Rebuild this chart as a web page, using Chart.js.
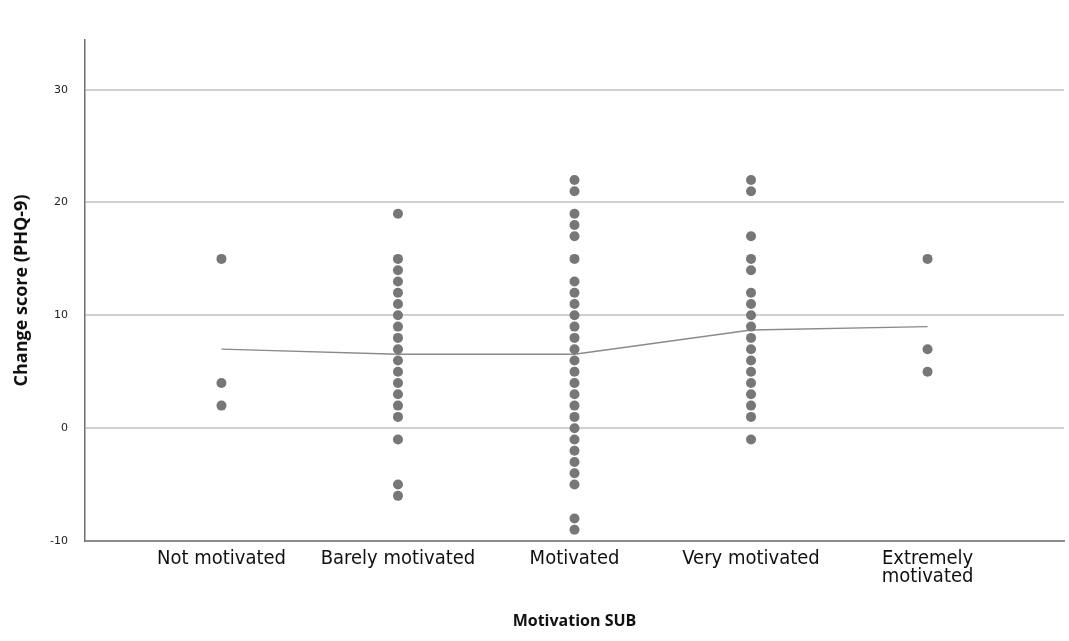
<!DOCTYPE html>
<html>
<head>
<meta charset="utf-8">
<script src="https://cdn.jsdelivr.net/npm/chart.js@4"></script>
<style>
	html, body { margin: 0; padding: 0; background: #fff; }
	#wrap { width: 1069px; height: 641px; }
</style>
</head>
<body>
<div id="wrap"><canvas id="scoreChart"></canvas></div>
<script>
// categories on the x axis
const categories = ['Not motivated', 'Barely motivated', 'Motivated', 'Very motivated', ['Extremely', 'motivated']];

// change scores per group (distinct values seen in the plot)
const notMotivated = [15, 4, 2];
const barelyMotivated = [19, 15, 14, 13, 12, 11, 10, 9, 8, 7, 6, 5, 4, 3, 2, 1, -1, -5, -6];
const motivated = [22, 21, 19, 18, 17, 15, 13, 12, 11, 10, 9, 8, 7, 6, 5, 4, 3, 2, 1, 0, -1, -2, -3, -4, -5, -8, -9];
const veryMotivated = [22, 21, 17, 15, 14, 12, 11, 10, 9, 8, 7, 6, 5, 4, 3, 2, 1, -1];
const extremelyMotivated = [15, 7, 5];

// group means (the connecting line)
const groupMeans = [7, 6.55, 6.55, 8.7, 9];

const yTicks = [-10, 0, 10, 20, 30];

const groups = [notMotivated, barelyMotivated, motivated, veryMotivated, extremelyMotivated];
const points = [];
groups.forEach((g, i) => g.forEach(v => points.push({ x: i + 1, y: v })));

new Chart(document.getElementById('scoreChart'), {
	type: 'scatter',
	data: {
		datasets: [{
			type: 'line',
			label: 'Mean',
			data: groupMeans.map((m, i) => ({ x: i + 1, y: m })),
			borderColor: '#8a8a8a',
			borderWidth: 1.3,
			pointRadius: 0,
			fill: false,
			order: 2
		}, {
			label: 'Change score',
			data: points,
			backgroundColor: '#777777',
			borderWidth: 0,
			pointRadius: 5,
			order: 1
		}]
	},
	options: {
		responsive: true,
		maintainAspectRatio: false,
		animation: false,
		layout: { padding: { left: 0, right: 1, top: 40, bottom: 0 } },
		plugins: {
			legend: { display: false },
			tooltip: { enabled: false }
		},
		scales: {
			x: {
				type: 'linear',
				min: 0.227,
				max: 5.773,
				afterBuildTicks: s => { s.ticks = [1, 2, 3, 4, 5].map(v => ({ value: v })); },
				afterFit: s => { s.height = 100; },
				ticks: {
					callback: v => categories[v - 1],
					color: '#111',
					font: { family: 'DejaVu Sans Condensed', size: 20, lineHeight: 0.9 },
					padding: 9,
					maxRotation: 0,
					autoSkip: false
				},
				grid: { display: false, drawTicks: false },
				border: { color: '#8c8c8c', width: 2 },
				title: {
					display: true,
					text: 'Motivation SUB',
					color: '#111',
					font: { family: 'Open Sans', size: 16, weight: 'bold' },
					padding: { top: 10, bottom: 10 }
				}
			},
			y: {
				min: -10,
				max: 34.4,
				afterBuildTicks: s => { s.ticks = yTicks.map(v => ({ value: v })); },
				afterFit: s => { s.width = 85; },
				ticks: {
					color: '#222',
					font: { family: 'DejaVu Sans', size: 11 },
					padding: 17
				},
				grid: {
					color: ctx => ctx.tick && ctx.tick.value === -10 ? 'rgba(0,0,0,0)' : '#d0d0d0',
					lineWidth: 2,
					drawTicks: false
				},
				border: { color: '#6e6e6e', width: 1.5 },
				title: {
					display: true,
					text: 'Change score (PHQ-9)',
					color: '#111',
					font: { family: 'Open Sans', size: 18, weight: 'bold' },
					padding: { top: 11, bottom: 4 }
				}
			}
		}
	}
});
</script>
</body>
</html>
